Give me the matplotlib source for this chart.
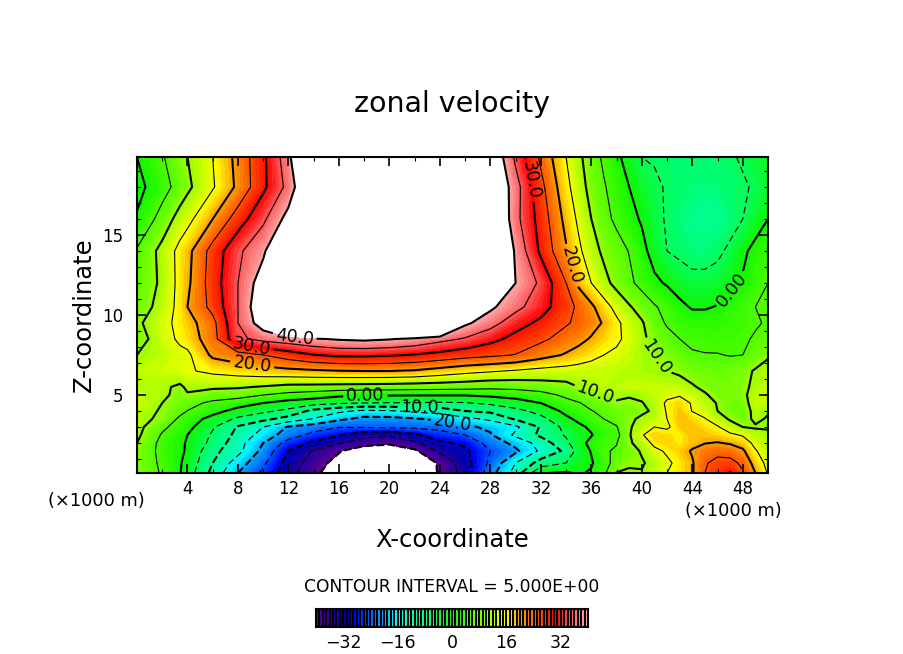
"""Zonal velocity section, contoured and filled."""

import matplotlib
matplotlib.use("Agg")
import matplotlib.pyplot as plt
import numpy as np
from matplotlib.colors import BoundaryNorm, LinearSegmentedColormap

W, H = 904, 654

x_km = [0, 2, 3.4] + list(range(4, 34, 2)) + list(range(34, 51))
z_km = [19.875, 18, 16, 14, 12, 10.5, 9.5, 8.5, 7.5, 6.5, 5.5, 5, 4.5, 4, 3.5, 3, 2.5, 2, 1.5, 0.75, 0.125]

# rows of u, top of the section first; values outside +-40 are left white
u_z199 = [0, 4.5, 10, 15, 21.5, 29, 38, 60, 60, 60, 60, 60, 60, 60, 46, 34, 24,
          15, 11, 7.5, 4, 1, -2, -5, -5.5, -6, -6, -6, -6, -6, -5.5, -4.5, -3, -2]
u_z180 = [-1.5, 3, 9, 14.5, 21, 29, 36.5, 50, 60, 60, 60, 60, 60, 60, 48, 37, 26.5,
          16.5, 12, 8.5, 5.5, 2.5, 0, -2.5, -4, -5.5, -6.5, -7, -7.2, -7, -6.5, -5.5, -4.5, -3]
u_z160 = [0.5, 7, 13.5, 20, 27.5, 34, 42, 60, 60, 60, 60, 60, 60, 60, 50, 36.5, 28,
          18.5, 14, 10, 6.5, 4, 1.5, -0.5, -3.5, -5.5, -7, -8.5, -9.5, -9, -7, -5, -2.5, 0]
u_z140 = [5.5, 11.5, 18.5, 27, 34, 39, 50, 60, 60, 60, 60, 60, 60, 60, 55, 39, 29,
          20.5, 16, 12, 9, 7, 4.8, 1.5, -2, -5, -6, -7, -7, -6, -4, -1, 1.5, 3]
u_z120 = [6, 11, 19, 27.5, 35, 43, 60, 60, 60, 60, 60, 60, 60, 60, 60, 40, 34,
          25, 19, 15, 11.5, 8.5, 6, 3.5, 1, -0.5, -2.5, -3.5, -3.5, -3, -1, 0.5, 3, 5]
u_z105 = [7, 12, 20, 26.5, 35, 45, 60, 60, 60, 60, 60, 60, 60, 60, 41, 36.5, 32,
          27, 24, 21, 17, 13.5, 10.5, 8, 5.5, 3.5, 1.3, -0.5, -0.5, 0.3, 2, 3.5, 5, 6]
u_z095 = [9, 13.5, 18, 23.5, 35, 43, 60, 60, 60, 60, 60, 60, 60, 41, 37, 32, 29,
          25.5, 24, 22, 19.5, 16, 13, 10.5, 7, 4.5, 3, 2.5, 2.5, 2.5, 3, 3.5, 4.5, 5.5]
u_z085 = [7.5, 13, 17, 23, 34, 36.5, 38, 39.5, 40.5, 41, 40.3, 39, 36.5, 34.5, 31.5, 28.5, 26,
          23, 21.5, 19.5, 17.5, 16, 13.5, 11, 8.5, 6.5, 5, 4, 3.8, 3.5, 3.8, 4.3, 5.5, 7]
u_z075 = [10, 12, 14, 21, 23, 25, 27.5, 29.8, 31, 31, 30.5, 29.7, 28.5, 27, 26, 24.8, 22,
          19.5, 18, 16.5, 15, 14, 12.5, 11, 10, 8.5, 7, 5.5, 5.2, 5.2, 4.8, 5, 7, 9.5]
u_z065 = [12, 13, 14.5, 16, 17, 18, 18.7, 19.3, 19.8, 20, 20, 19.5, 18, 16.5, 15.5, 14.5, 13.5,
          13, 12.8, 12.5, 12.2, 12, 11.5, 11, 10.5, 10, 9, 8, 7.5, 7, 7.5, 8.5, 10.5, 11.5]
u_z055 = [12, 11, 11, 10.8, 10.5, 9.6, 8.5, 8.3, 8, 7.8, 7.6, 7.3, 7.1, 6.8, 6.2, 6.5, 7.5,
          8.5, 10, 11, 12, 12, 12.5, 12.5, 12.5, 12.5, 12.5, 10.5, 9, 8.5, 8.3, 9, 11, 13]
u_z050 = [12.5, 11, 9.5, 7.5, 7.2, 5, 3.5, 2.5, 1, 0.5, 0.4, 0.3, 0.3, 0.3, 1, 1.7, 3.1,
          6, 7.5, 9, 10.5, 11, 10.5, 10.8, 12, 13.5, 14.5, 13, 10.5, 8.5, 8, 9, 12, 13]
u_z045 = [13, 10, 6.5, 4, 2, 0, -1.8, -3, -4.3, -5, -5.2, -5.2, -5.5, -5.3, -4, -2, 0,
          3.5, 4.7, 6.5, 7.5, 9.5, 9, 9.8, 11.5, 16, 17.5, 14.5, 12, 9.7, 8, 8, 12.5, 12]
u_z040 = [12, 9.5, 4.9, 1.5, -1.5, -4, -6.2, -11.5, -14, -16, -15.5, -14, -13, -10, -9, -6.5, -3.3,
          1.2, 3, 4.8, 6, 7.5, 8.5, 9, 10.8, 15.5, 18.5, 14.8, 13, 10, 8, 7.5, 11.5, 10.5]
u_z035 = [11.5, 9, 2.2, -1.5, -6, -8.7, -12, -15.3, -19, -21.5, -21.5, -20.5, -19, -16.5, -14, -9.5, -6.5,
          -1, 1, 3.5, 5, 6.5, 9, 11, 12, 15, 19, 17.5, 15.3, 12, 9.5, 8, 11, 9.5]
u_z030 = [11.5, 6, 1.5, -4.5, -10.5, -15, -20.5, -22.5, -24.7, -24.5, -24, -24, -23.5, -21, -19, -16, -9.5,
          -3.5, -1, 0.8, 3.5, 4.7, 9.5, 12, 15, 14, 18, 19, 17, 15.5, 12, 10, 9.5, 9.5]
u_z025 = [11, 4.5, 0, -5.7, -11.5, -17, -22.5, -26.5, -29.5, -33.5, -34, -31, -27, -25, -20.5, -14, -9,
          -4.5, -2.5, -0.3, 2.5, 3.5, 9.5, 14.5, 18, 17.5, 16, 19, 18.5, 17.5, 16, 14.5, 12, 11]
u_z020 = [10, 3.5, -0.5, -6.5, -13, -20, -27, -31, -34.5, -37.5, -39, -36, -31, -29, -23, -18.5, -13,
          -6, -2, 1.5, 4, 4.8, 9.5, 11.5, 16.5, 18, 16.5, 18.5, 19.8, 20.3, 19.5, 18, 13.5, 11.5]
u_z015 = [9, 3.5, -0.7, -8.5, -13.5, -21.5, -30, -35.5, -39.5, -44, -44, -41, -34, -31, -25, -21, -14,
          -9, -3, 0.3, 4.5, 5.5, 8, 10.5, 13.5, 15.8, 18, 20.5, 22.5, 23.5, 23, 20.8, 15.5, 12]
u_z008 = [8.8, 4, -1.5, -10, -17.5, -24, -32, -37.5, -42, -46, -46, -43, -39.5, -32, -24, -15, -8,
          -5, -2, -0.5, 3, 7, 9, 9.5, 11.5, 14, 16.5, 19.5, 24.5, 26.5, 26.5, 24, 18, 13.5]
u_z001 = [8.5, 4.5, -2.5, -11.5, -20, -26, -33, -38.5, -44, -48, -48, -44, -39.5, -33, -22, -13, -0.2,
          0.5, -0.5, 0.5, 4, 10.2, 11, 10.3, 12, 15, 16.5, 19.5, 25, 27.5, 30.3, 25.5, 20, 14.5]

# extra column at x = 3.4 km for the narrow spike of the 10 contour
u_x34 = [8.5, 7, 12, 16.5, 16.5, 16.5, 16.3, 15.8, 13.8, 14, 9, 8.5, 7.5, 6.5, 4, 3, 1.5, 1, 1, 0.4, 0.3]

xticks = list(range(4, 49, 4))
zticks = [5, 10, 15]
bar_ticks = [-32, -16, 0, 16, 32]

# contour labels (x km, z km)
thick_label_at = [(12.5, 9.06), (9.1, 8.25), (9.1, 6.75), (18.1, 4.9), (22.4, 4.2), (25, 3.2),
                  (36.3, 5.1), (40.9, 7.2), (31.1, 18.4), (34, 13), (47, 11.7)]

u = np.array([u_z199, u_z180, u_z160, u_z140, u_z120, u_z105, u_z095, u_z085, u_z075, u_z065, u_z055,
              u_z050, u_z045, u_z040, u_z035, u_z030, u_z025, u_z020, u_z015, u_z008, u_z001])
u = np.insert(u, 2, u_x34, axis=1)[::-1]
z = np.array(z_km)[::-1]

plt.rcParams["font.family"] = "DejaVu Sans"

# colours, keyed by value
color_stops = [(-40, "#5a0090"), (-32, "#0000a8"), (-29, "#0000ff"), (-26, "#0040ff"), (-22, "#0088ff"),
               (-19.5, "#00b8ff"), (-16.5, "#00f8ff"), (-12, "#00ffa8"), (-7.5, "#00ff80"), (0, "#10f800"),
               (8, "#70ff00"), (12, "#b8ff00"), (16, "#ffff00"), (20, "#ffa800"), (24, "#ff6800"),
               (29, "#ff2000"), (31, "#ff0000"), (35, "#ff5050"), (40, "#ffa0a0")]
cmap = LinearSegmentedColormap.from_list("rainbow_pink", [((v + 40) / 80, c) for v, c in color_stops], N=80)
fill_levels = np.arange(-40, 41, 1)
norm = BoundaryNorm(fill_levels, 80)


def label_fmt(v):
    return "0.00" if v == 0 else f"{abs(v):.1f}"


def main():
    fig = plt.figure(figsize=(W / 100, H / 100), dpi=100)
    ax = fig.add_axes([137 / W, 1 - 473 / H, 631 / W, 316 / H])
    ax.contourf(x_km, z, u, levels=fill_levels, cmap=cmap, norm=norm)

    thin = list(range(-35, 40, 10))
    thick = list(range(-40, 41, 10))
    thin_styles = [(0, (6, 3.5)) if v < 0 else "-" for v in thin]
    thick_styles = ["--" if v < 0 else "-" for v in thick]
    ax.contour(x_km, z, u, levels=thin, colors="k", linewidths=0.8, linestyles=thin_styles)
    cs = ax.contour(x_km, z, u, levels=thick, colors="k", linewidths=1.5, linestyles=thick_styles)
    ax.clabel(cs, manual=thick_label_at, fmt=label_fmt, fontsize=12.5, inline=True, inline_spacing=3)

    ax.set_xlim(0, 50)
    ax.set_ylim(0.125, 19.875)
    ax.set_xticks(xticks)
    ax.set_xticks(np.arange(2, 50, 2), minor=True)
    ax.set_yticks(zticks)
    ax.set_yticks(np.arange(1, 20, 1), minor=True)
    ax.tick_params(which="major", direction="in", top=True, right=True, length=6.5, width=1.2, labelsize=12)
    ax.tick_params(which="minor", direction="in", top=True, right=True, length=3, width=0.8)
    ax.tick_params(axis="x", which="major", pad=5)
    ax.tick_params(axis="y", which="major", pad=10)
    for s in ax.spines.values():
        s.set_linewidth(1.5)

    fig.text(452 / W, 1 - 104 / H, "zonal velocity", fontsize=20.5, ha="center", va="center")
    fig.text(84 / W, 1 - 315 / H, "Z-coordinate", fontsize=17.5, rotation=90, ha="center", va="center")
    fig.text(452 / W, 1 - 540 / H, "X-coordinate", fontsize=17.5, ha="center", va="center")
    fig.text(96 / W, 1 - 501 / H, "(\u00d71000 m)", fontsize=12.8, ha="center", va="center")
    fig.text(733 / W, 1 - 511 / H, "(\u00d71000 m)", fontsize=12.8, ha="center", va="center")
    fig.text(452 / W, 1 - 587 / H, "CONTOUR INTERVAL = 5.000E+00", fontsize=12.3, ha="center", va="center")

    cax = fig.add_axes([316 / W, 1 - 627 / H, 272 / W, 18 / H])
    mids = (fill_levels[:-1] + fill_levels[1:]) / 2
    cax.pcolormesh(fill_levels, [0, 1], mids[None, :], cmap=cmap, norm=norm, edgecolors="k", linewidth=1.1)
    cax.set_xticks(bar_ticks)
    cax.set_xticklabels([str(t).replace("-", "\u2212") for t in bar_ticks])
    cax.set_yticks([])
    cax.tick_params(axis="x", length=0, labelsize=12.5, pad=5)
    for s in cax.spines.values():
        s.set_linewidth(1.5)

    fig.savefig("out.png", dpi=100)
    plt.close(fig)


if __name__ == "__main__":
    main()
